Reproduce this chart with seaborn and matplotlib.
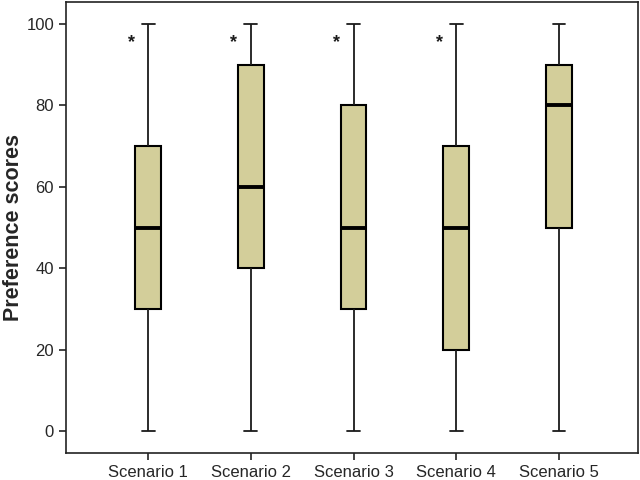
import numpy as np
import pandas as pd
import seaborn as sns
import matplotlib.pyplot as plt

# five-number summaries (min, q1, median, q3, max)
scenarios = ["Scenario 1", "Scenario 2", "Scenario 3", "Scenario 4", "Scenario 5"]
mins = [0, 0, 0, 0, 0]
q1s = [30, 40, 30, 20, 50]
medians = [50, 60, 50, 50, 80]
q3s = [70, 90, 80, 70, 90]
maxs = [100, 100, 100, 100, 100]
# scenarios flagged with an asterisk
flagged = ["Scenario 1", "Scenario 2", "Scenario 3", "Scenario 4"]

# long-form table: the 5 values per scenario reproduce the quartiles exactly
rows = []
for s, a, b, c, d, e in zip(scenarios, mins, q1s, medians, q3s, maxs):
    for v in (a, b, c, d, e):
        rows.append({"scenario": s, "score": v})
df = pd.DataFrame(rows)

sns.set_style("ticks")
plt.rcParams['font.family'] = ['Liberation Sans', 'DejaVu Sans']

fig = plt.figure(figsize=(6.4, 4.8), dpi=100)
ax = fig.add_axes([0.103, 0.056, 0.894, 0.94])

sns.boxplot(data=df, x="scenario", y="score", order=scenarios, ax=ax,
            color="#D3CE9A", saturation=1, width=0.25, whis=1.5,
            linewidth=1.3, linecolor="#1a1a1a",
            boxprops=dict(edgecolor="black", linewidth=1.5),
            medianprops=dict(color="black", linewidth=2.8),
            whiskerprops=dict(color="#1a1a1a", linewidth=1.3),
            capprops=dict(color="#1a1a1a", linewidth=1.3),
            showfliers=False)

for s in flagged:
    i = scenarios.index(s)
    ax.text(i - 0.165, 95.5, "*", ha="center", va="center",
            fontsize=13, fontweight="bold", color="#1a1a1a")

ax.set_xlim(-0.8, 4.77)
ax.set_ylim(-5.4, 105.4)
ax.set_yticks([0, 20, 40, 60, 80, 100])
ax.set_xlabel("")
ax.set_ylabel("Preference scores", fontsize=15.5, fontweight="bold")
ax.yaxis.set_label_coords(-0.074, 0.5)
ax.tick_params(axis="both", labelsize=12, length=5, width=1.2, color="#222222")
for sp in ax.spines.values():
    sp.set_linewidth(1.2)
    sp.set_color("#222222")

fig.savefig("out.png", dpi=100)
